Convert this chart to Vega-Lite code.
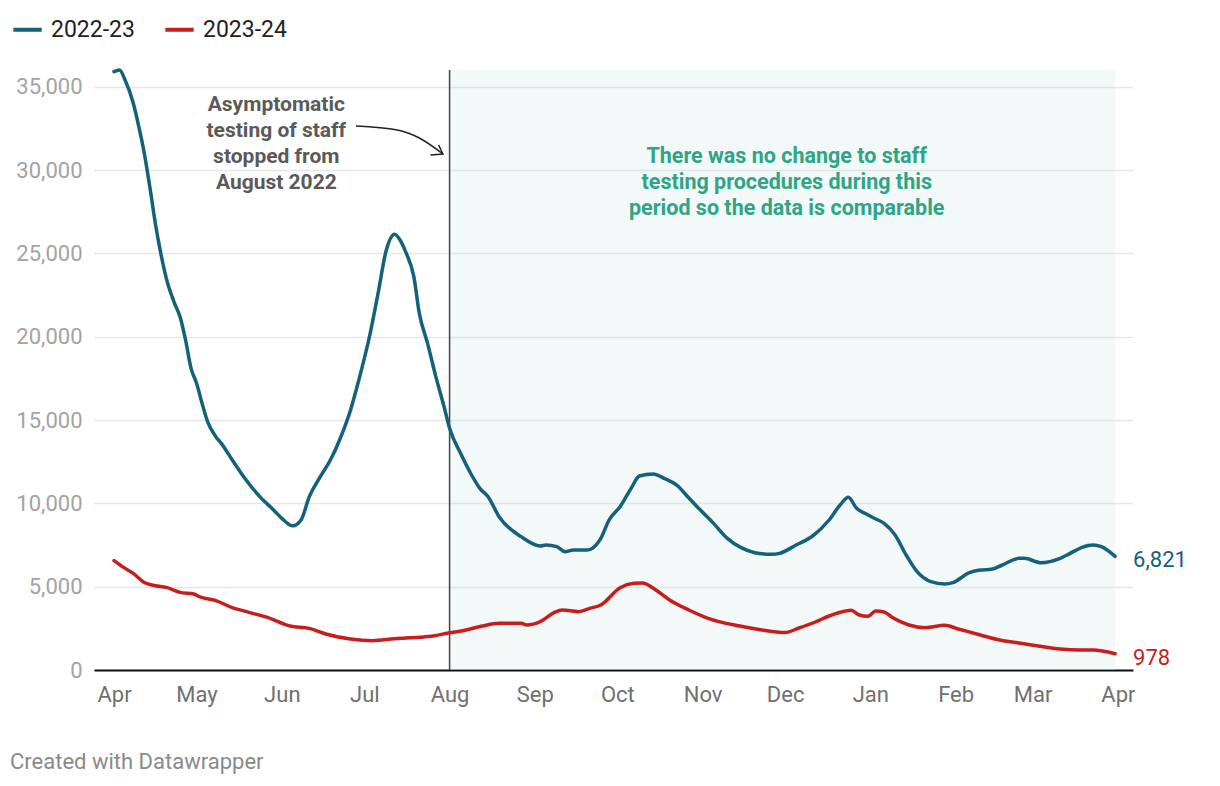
{
  "$schema": "https://vega.github.io/schema/vega-lite/v6.json",
  "width": 1039,
  "height": 600,
  "autosize": {"type": "none"},
  "padding": {"left": 94, "top": 70, "right": 87, "bottom": 116},
  "background": "white",
  "config": {"font": "Roboto", "view": {"stroke": null}},
  "title": {"text": "Created with Datawrapper", "orient": "bottom", "anchor": "start", "frame": "group", "dx": -84, "offset": 47, "fontSize": 22, "fontWeight": "normal", "color": "#8a8a8a", "font": "Roboto"},
  "datasets": {
    "series": [
      {"date": "2022-04-01", "series": "2022-23", "value": 35900},
      {"date": "2022-04-03", "series": "2022-23", "value": 36000},
      {"date": "2022-04-05", "series": "2022-23", "value": 35400},
      {"date": "2022-04-08", "series": "2022-23", "value": 34000},
      {"date": "2022-04-10", "series": "2022-23", "value": 32600},
      {"date": "2022-04-12", "series": "2022-23", "value": 31000},
      {"date": "2022-04-14", "series": "2022-23", "value": 29000},
      {"date": "2022-04-16", "series": "2022-23", "value": 26800},
      {"date": "2022-04-18", "series": "2022-23", "value": 25000},
      {"date": "2022-04-20", "series": "2022-23", "value": 23500},
      {"date": "2022-04-23", "series": "2022-23", "value": 22000},
      {"date": "2022-04-25", "series": "2022-23", "value": 21200},
      {"date": "2022-04-27", "series": "2022-23", "value": 19800},
      {"date": "2022-04-29", "series": "2022-23", "value": 18100},
      {"date": "2022-05-01", "series": "2022-23", "value": 17200},
      {"date": "2022-05-03", "series": "2022-23", "value": 16000},
      {"date": "2022-05-05", "series": "2022-23", "value": 14900},
      {"date": "2022-05-08", "series": "2022-23", "value": 14000},
      {"date": "2022-05-10", "series": "2022-23", "value": 13600},
      {"date": "2022-05-14", "series": "2022-23", "value": 12600},
      {"date": "2022-05-19", "series": "2022-23", "value": 11400},
      {"date": "2022-05-24", "series": "2022-23", "value": 10400},
      {"date": "2022-05-29", "series": "2022-23", "value": 9600},
      {"date": "2022-06-01", "series": "2022-23", "value": 9100},
      {"date": "2022-06-05", "series": "2022-23", "value": 8650},
      {"date": "2022-06-08", "series": "2022-23", "value": 9000},
      {"date": "2022-06-11", "series": "2022-23", "value": 10400},
      {"date": "2022-06-15", "series": "2022-23", "value": 11600},
      {"date": "2022-06-19", "series": "2022-23", "value": 12700},
      {"date": "2022-06-22", "series": "2022-23", "value": 13800},
      {"date": "2022-06-26", "series": "2022-23", "value": 15600},
      {"date": "2022-06-29", "series": "2022-23", "value": 17400},
      {"date": "2022-07-03", "series": "2022-23", "value": 20100},
      {"date": "2022-07-06", "series": "2022-23", "value": 22600},
      {"date": "2022-07-09", "series": "2022-23", "value": 25200},
      {"date": "2022-07-12", "series": "2022-23", "value": 26150},
      {"date": "2022-07-14", "series": "2022-23", "value": 25800},
      {"date": "2022-07-16", "series": "2022-23", "value": 25100},
      {"date": "2022-07-19", "series": "2022-23", "value": 23600},
      {"date": "2022-07-21", "series": "2022-23", "value": 21400},
      {"date": "2022-07-24", "series": "2022-23", "value": 19600},
      {"date": "2022-07-27", "series": "2022-23", "value": 17600},
      {"date": "2022-07-30", "series": "2022-23", "value": 15800},
      {"date": "2022-08-01", "series": "2022-23", "value": 14500},
      {"date": "2022-08-05", "series": "2022-23", "value": 13000},
      {"date": "2022-08-09", "series": "2022-23", "value": 11700},
      {"date": "2022-08-12", "series": "2022-23", "value": 10900},
      {"date": "2022-08-15", "series": "2022-23", "value": 10400},
      {"date": "2022-08-19", "series": "2022-23", "value": 9200},
      {"date": "2022-08-27", "series": "2022-23", "value": 8000},
      {"date": "2022-09-03", "series": "2022-23", "value": 7440},
      {"date": "2022-09-05", "series": "2022-23", "value": 7500},
      {"date": "2022-09-09", "series": "2022-23", "value": 7400},
      {"date": "2022-09-12", "series": "2022-23", "value": 7100},
      {"date": "2022-09-15", "series": "2022-23", "value": 7200},
      {"date": "2022-09-20", "series": "2022-23", "value": 7200},
      {"date": "2022-09-25", "series": "2022-23", "value": 7900},
      {"date": "2022-09-28", "series": "2022-23", "value": 9000},
      {"date": "2022-10-02", "series": "2022-23", "value": 9800},
      {"date": "2022-10-06", "series": "2022-23", "value": 10900},
      {"date": "2022-10-09", "series": "2022-23", "value": 11640},
      {"date": "2022-10-14", "series": "2022-23", "value": 11760},
      {"date": "2022-10-18", "series": "2022-23", "value": 11500},
      {"date": "2022-10-23", "series": "2022-23", "value": 11040},
      {"date": "2022-10-26", "series": "2022-23", "value": 10500},
      {"date": "2022-10-30", "series": "2022-23", "value": 9800},
      {"date": "2022-11-05", "series": "2022-23", "value": 8800},
      {"date": "2022-11-10", "series": "2022-23", "value": 7900},
      {"date": "2022-11-15", "series": "2022-23", "value": 7340},
      {"date": "2022-11-20", "series": "2022-23", "value": 7040},
      {"date": "2022-11-26", "series": "2022-23", "value": 6940},
      {"date": "2022-11-29", "series": "2022-23", "value": 7000},
      {"date": "2022-12-05", "series": "2022-23", "value": 7500},
      {"date": "2022-12-11", "series": "2022-23", "value": 8040},
      {"date": "2022-12-17", "series": "2022-23", "value": 9000},
      {"date": "2022-12-21", "series": "2022-23", "value": 9900},
      {"date": "2022-12-24", "series": "2022-23", "value": 10360},
      {"date": "2022-12-27", "series": "2022-23", "value": 9700},
      {"date": "2022-12-30", "series": "2022-23", "value": 9400},
      {"date": "2023-01-03", "series": "2022-23", "value": 9060},
      {"date": "2023-01-06", "series": "2022-23", "value": 8800},
      {"date": "2023-01-10", "series": "2022-23", "value": 8100},
      {"date": "2023-01-14", "series": "2022-23", "value": 6900},
      {"date": "2023-01-18", "series": "2022-23", "value": 5900},
      {"date": "2023-01-23", "series": "2022-23", "value": 5300},
      {"date": "2023-01-28", "series": "2022-23", "value": 5160},
      {"date": "2023-01-31", "series": "2022-23", "value": 5240},
      {"date": "2023-02-06", "series": "2022-23", "value": 5840},
      {"date": "2023-02-10", "series": "2022-23", "value": 6000},
      {"date": "2023-02-14", "series": "2022-23", "value": 6040},
      {"date": "2023-02-18", "series": "2022-23", "value": 6300},
      {"date": "2023-02-24", "series": "2022-23", "value": 6700},
      {"date": "2023-02-26", "series": "2022-23", "value": 6700},
      {"date": "2023-03-04", "series": "2022-23", "value": 6440},
      {"date": "2023-03-11", "series": "2022-23", "value": 6700},
      {"date": "2023-03-14", "series": "2022-23", "value": 6940},
      {"date": "2023-03-19", "series": "2022-23", "value": 7360},
      {"date": "2023-03-23", "series": "2022-23", "value": 7500},
      {"date": "2023-03-26", "series": "2022-23", "value": 7400},
      {"date": "2023-03-31", "series": "2022-23", "value": 6821},
      {"date": "2022-04-01", "series": "2023-24", "value": 6560},
      {"date": "2022-04-04", "series": "2023-24", "value": 6200},
      {"date": "2022-04-08", "series": "2023-24", "value": 5800},
      {"date": "2022-04-12", "series": "2023-24", "value": 5250},
      {"date": "2022-04-16", "series": "2023-24", "value": 5060},
      {"date": "2022-04-20", "series": "2023-24", "value": 4960},
      {"date": "2022-04-25", "series": "2023-24", "value": 4660},
      {"date": "2022-04-30", "series": "2023-24", "value": 4560},
      {"date": "2022-05-02", "series": "2023-24", "value": 4400},
      {"date": "2022-05-08", "series": "2023-24", "value": 4160},
      {"date": "2022-05-14", "series": "2023-24", "value": 3740},
      {"date": "2022-05-20", "series": "2023-24", "value": 3460},
      {"date": "2022-05-27", "series": "2023-24", "value": 3140},
      {"date": "2022-06-04", "series": "2023-24", "value": 2640},
      {"date": "2022-06-11", "series": "2023-24", "value": 2500},
      {"date": "2022-06-17", "series": "2023-24", "value": 2160},
      {"date": "2022-06-26", "series": "2023-24", "value": 1860},
      {"date": "2022-07-04", "series": "2023-24", "value": 1760},
      {"date": "2022-07-12", "series": "2023-24", "value": 1880},
      {"date": "2022-07-21", "series": "2023-24", "value": 1960},
      {"date": "2022-07-26", "series": "2023-24", "value": 2040},
      {"date": "2022-07-31", "series": "2023-24", "value": 2200},
      {"date": "2022-08-07", "series": "2023-24", "value": 2400},
      {"date": "2022-08-13", "series": "2023-24", "value": 2640},
      {"date": "2022-08-19", "series": "2023-24", "value": 2800},
      {"date": "2022-08-27", "series": "2023-24", "value": 2800},
      {"date": "2022-08-29", "series": "2023-24", "value": 2700},
      {"date": "2022-09-03", "series": "2023-24", "value": 2900},
      {"date": "2022-09-08", "series": "2023-24", "value": 3440},
      {"date": "2022-09-11", "series": "2023-24", "value": 3600},
      {"date": "2022-09-17", "series": "2023-24", "value": 3500},
      {"date": "2022-09-21", "series": "2023-24", "value": 3700},
      {"date": "2022-09-25", "series": "2023-24", "value": 3900},
      {"date": "2022-10-02", "series": "2023-24", "value": 4940},
      {"date": "2022-10-07", "series": "2023-24", "value": 5200},
      {"date": "2022-10-10", "series": "2023-24", "value": 5220},
      {"date": "2022-10-15", "series": "2023-24", "value": 4800},
      {"date": "2022-10-20", "series": "2023-24", "value": 4200},
      {"date": "2022-10-27", "series": "2023-24", "value": 3600},
      {"date": "2022-11-03", "series": "2023-24", "value": 3100},
      {"date": "2022-11-14", "series": "2023-24", "value": 2650},
      {"date": "2022-11-22", "series": "2023-24", "value": 2420},
      {"date": "2022-12-01", "series": "2023-24", "value": 2250},
      {"date": "2022-12-06", "series": "2023-24", "value": 2520},
      {"date": "2022-12-12", "series": "2023-24", "value": 2880},
      {"date": "2022-12-17", "series": "2023-24", "value": 3240},
      {"date": "2022-12-23", "series": "2023-24", "value": 3540},
      {"date": "2022-12-25", "series": "2023-24", "value": 3580},
      {"date": "2022-12-28", "series": "2023-24", "value": 3300},
      {"date": "2022-12-31", "series": "2023-24", "value": 3220},
      {"date": "2023-01-03", "series": "2023-24", "value": 3540},
      {"date": "2023-01-06", "series": "2023-24", "value": 3480},
      {"date": "2023-01-09", "series": "2023-24", "value": 3150},
      {"date": "2023-01-15", "series": "2023-24", "value": 2700},
      {"date": "2023-01-21", "series": "2023-24", "value": 2540},
      {"date": "2023-01-28", "series": "2023-24", "value": 2680},
      {"date": "2023-02-02", "series": "2023-24", "value": 2460},
      {"date": "2023-02-10", "series": "2023-24", "value": 2100},
      {"date": "2023-02-17", "series": "2023-24", "value": 1800},
      {"date": "2023-02-24", "series": "2023-24", "value": 1620},
      {"date": "2023-03-03", "series": "2023-24", "value": 1440},
      {"date": "2023-03-11", "series": "2023-24", "value": 1260},
      {"date": "2023-03-18", "series": "2023-24", "value": 1200},
      {"date": "2023-03-23", "series": "2023-24", "value": 1200},
      {"date": "2023-03-31", "series": "2023-24", "value": 978}
    ],
    "ends": [
      {"date": "2023-03-31", "series": "2022-23", "value": 6821, "label": "6,821"},
      {"date": "2023-03-31", "series": "2023-24", "value": 978, "label": "978"}
    ],
    "notes": [
      {"date": "2022-05-30", "value": 33900, "label": "Asymptomatic\ntesting of staff\nstopped from\nAugust 2022", "kind": "left"},
      {"date": "2022-12-01T14:00:00Z", "value": 30780, "label": "There was no change to staff\ntesting procedures during this\nperiod so the data is comparable", "kind": "right"}
    ],
    "arrowCurve": [
      {"date": "2022-06-28", "value": 32640},
      {"date": "2022-07-13", "value": 32400},
      {"date": "2022-07-21", "value": 31920},
      {"date": "2022-07-29T14:00:00Z", "value": 30960}
    ],
    "arrowHead": [
      {"date": "2022-07-25T00:00:00Z", "value": 30900, "o": 1},
      {"date": "2022-07-29T14:00:00Z", "value": 30960, "o": 2},
      {"date": "2022-07-28T00:00:00Z", "value": 31500, "o": 3}
    ]
  },
  "encoding": {
    "x": {
      "field": "date",
      "type": "temporal",
      "scale": {
        "type": "utc",
        "domain": [
          {"year": 2022, "month": 3, "date": 24, "hours": 17, "utc": true},
          {"year": 2023, "month": 4, "date": 6, "hours": 12, "utc": true}
        ]
      },
      "axis": {
        "title": null,
        "tickCount": {"interval": "month", "step": 1},
        "format": "%b",
        "grid": false,
        "ticks": false,
        "domainColor": "#111111",
        "domainWidth": 2,
        "labelFontSize": 22,
        "labelColor": "#707070",
        "labelPadding": 14,
        "labelFlush": false,
        "labelOverlap": false,
        "labelFont": "Roboto"
      }
    },
    "y": {
      "field": "value",
      "type": "quantitative",
      "scale": {"domain": [0, 36000], "nice": false, "zero": true},
      "axis": {
        "title": null,
        "values": [0, 5000, 10000, 15000, 20000, 25000, 30000, 35000],
        "format": ",.0f",
        "domain": false,
        "ticks": false,
        "labelPadding": 12,
        "labelFontSize": 22,
        "labelColor": "#a3a3a3",
        "labelFont": "Roboto",
        "gridColor": "#e6e6e6",
        "gridWidth": 1.5
      }
    }
  },
  "layer": [
    {
      "data": {"values": [{"date": "2022-08-01", "date2": "2023-03-31", "value": 36000}]},
      "mark": {"type": "rect", "fill": "#cfe3e3", "opacity": 0.25},
      "encoding": {"x2": {"field": "date2"}, "y2": {"datum": 0}}
    },
    {
      "data": {"values": [{"date": "2022-08-01", "value": 36000}]},
      "mark": {"type": "rule", "color": "#444444", "strokeWidth": 1.5},
      "encoding": {"y2": {"datum": 0}}
    },
    {
      "data": {"name": "arrowCurve"},
      "mark": {"type": "line", "color": "#222222", "strokeWidth": 1.5, "interpolate": "monotone"},
      "encoding": {}
    },
    {
      "data": {"name": "arrowHead"},
      "mark": {"type": "line", "color": "#222222", "strokeWidth": 1.5},
      "encoding": {"order": {"field": "o", "type": "quantitative"}}
    },
    {
      "data": {"name": "series"},
      "mark": {"type": "line", "strokeWidth": 3.5, "interpolate": "monotone", "strokeCap": "round", "strokeJoin": "round"},
      "encoding": {
        "color": {
          "field": "series",
          "type": "nominal",
          "scale": {"domain": ["2022-23", "2023-24"], "range": ["#15607a", "#c71e1d"]},
          "legend": {
            "orient": "none",
            "legendX": -83,
            "legendY": -57,
            "direction": "horizontal",
            "title": null,
            "symbolType": "stroke",
            "symbolStrokeWidth": 4,
            "symbolSize": 800,
            "labelFontSize": 23,
            "labelColor": "#222222",
            "labelFont": "Roboto",
            "labelOffset": 7,
            "columnPadding": 22,
            "padding": 0
          }
        }
      }
    },
    {
      "data": {"name": "ends"},
      "transform": [{"filter": "datum.series === '2022-23'"}],
      "mark": {"type": "text", "align": "left", "baseline": "middle", "dx": 18, "dy": 4, "fontSize": 22, "color": "#15607a", "font": "Roboto"},
      "encoding": {"text": {"field": "label"}}
    },
    {
      "data": {"name": "ends"},
      "transform": [{"filter": "datum.series === '2023-24'"}],
      "mark": {"type": "text", "align": "left", "baseline": "middle", "dx": 18, "dy": 4, "fontSize": 22, "color": "#c71e1d", "font": "Roboto"},
      "encoding": {"text": {"field": "label"}}
    },
    {
      "data": {"name": "notes"},
      "transform": [{"filter": "datum.kind === 'left'"}],
      "mark": {"type": "text", "align": "center", "baseline": "middle", "lineBreak": "\n", "lineHeight": 26, "fontSize": 21, "fontWeight": "bold", "color": "#5a5a5a", "font": "Roboto"},
      "encoding": {"text": {"field": "label"}}
    },
    {
      "data": {"name": "notes"},
      "transform": [{"filter": "datum.kind === 'right'"}],
      "mark": {"type": "text", "align": "center", "baseline": "middle", "lineBreak": "\n", "lineHeight": 26, "fontSize": 21.5, "fontWeight": "bold", "color": "#2ea584", "font": "Roboto"},
      "encoding": {"text": {"field": "label"}}
    }
  ]
}
